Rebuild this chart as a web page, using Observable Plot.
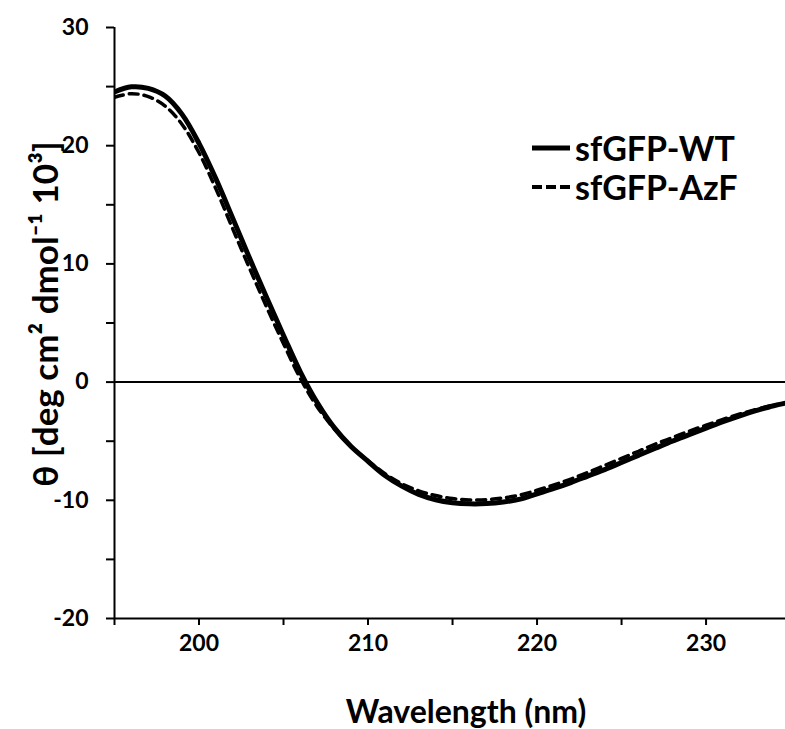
<!DOCTYPE html>
<html><head><meta charset="utf-8">
<script src="https://cdn.jsdelivr.net/npm/d3@7"></script>
<script src="https://cdn.jsdelivr.net/npm/@observablehq/plot@0.6"></script>
<style>
body{margin:0;background:#fff;}
#wrap{position:relative;width:785px;height:729px;font-family:Lato,"Open Sans",sans-serif;font-weight:bold;color:#000;}
.leg{position:absolute;display:flex;align-items:center;font-size:34px;line-height:1;white-space:nowrap;}
.leg svg{margin-right:3px;}
</style></head><body><div id="wrap"></div>
<script>
const wavelength = [195,196,197,198,199,200,201,202,203,204,205,206,207,208,209,210,211,212,213,214,215,216,217,218,219,220,221,222,223,224,225,226,227,228,229,230,231,232,233,234,235];
const wtValues = [24.55,24.98,24.85,24.2,22.65,20.2,17.2,13.85,10.45,7.15,3.95,0.85,-1.75,-3.85,-5.45,-6.7,-7.9,-8.8,-9.5,-9.95,-10.2,-10.3,-10.28,-10.15,-9.9,-9.45,-9.0,-8.5,-7.95,-7.4,-6.8,-6.2,-5.6,-5.0,-4.45,-3.9,-3.35,-2.85,-2.4,-2.0,-1.7];
const azfValues = [24.1,24.4,24.15,23.35,21.8,19.4,16.35,12.95,9.6,6.35,3.25,0.3,-2.1,-3.95,-5.45,-6.65,-7.75,-8.6,-9.2,-9.6,-9.85,-9.97,-9.95,-9.8,-9.55,-9.15,-8.7,-8.2,-7.65,-7.05,-6.45,-5.85,-5.25,-4.7,-4.15,-3.65,-3.15,-2.7,-2.3,-1.95,-1.7];
const seriesNames = ["sfGFP-WT", "sfGFP-AzF"];
const yTicks = [-20,-15,-10,-5,0,5,10,15,20,25,30];
const yLabels = [-20,-10,0,10,20,30];
const xTicks = [195,200,205,210,215,220,225,230];
const xLabels = [200,210,220,230];
const xTitle = "Wavelength (nm)";
const yTitle = "θ [deg cm² dmol⁻¹ 10³]";

const wt = wavelength.map((w, i) => ({w, v: wtValues[i]}));
const azf = wavelength.map((w, i) => ({w, v: azfValues[i]}));

const chart = Plot.plot({
  width: 785,
  height: 729,
  marginLeft: 114,
  marginRight: 0,
  marginTop: 27,
  marginBottom: 111,
  style: {fontFamily: "Lato, 'Open Sans', sans-serif", fontWeight: "bold", background: "#fff", color: "#000"},
  x: {domain: [195, 234.7], label: null},
  y: {domain: [-20, 30], label: null},
  marks: [
    Plot.axisY({ticks: yTicks, tickSize: 8, tickPadding: 18, strokeWidth: 2, fontSize: 23, fontWeight: "bold",
      tickFormat: d => yLabels.includes(d) ? String(d) : "", label: null}),
    Plot.axisX({ticks: xTicks, tickSize: 7, tickPadding: 9, strokeWidth: 2, fontSize: 23, fontWeight: "bold",
      tickFormat: d => xLabels.includes(d) ? String(d) : "", label: null}),
    Plot.ruleX([195], {stroke: "#000", strokeWidth: 2}),
    Plot.ruleY([-20], {stroke: "#000", strokeWidth: 2}),
    Plot.ruleY([0], {stroke: "#000", strokeWidth: 2}),
    Plot.line(azf, {x: "w", y: "v", stroke: "#000", strokeWidth: 3.5, strokeDasharray: "9,6", curve: "catmull-rom", clip: true}),
    Plot.line(wt, {x: "w", y: "v", stroke: "#000", strokeWidth: 5, curve: "catmull-rom", clip: true}),
    Plot.text([xTitle], {frameAnchor: "bottom", dx: 16, dy: 94, fontSize: 32, fontWeight: "bold", lineAnchor: "middle"}),
    Plot.text([yTitle], {frameAnchor: "left", textAnchor: "middle", rotate: -90, dx: -68, dy: -9, fontSize: 35, fontWeight: "bold", lineAnchor: "middle"})
  ]
});
const wrap = document.getElementById("wrap");
wrap.appendChild(chart);

function legendRow(name, dash, width, top, left) {
  const div = document.createElement("div");
  div.className = "leg";
  div.style.top = top + "px";
  div.style.left = left + "px";
  const ns = "http://www.w3.org/2000/svg";
  const s = document.createElementNS(ns, "svg");
  s.setAttribute("width", 40); s.setAttribute("height", 10);
  const ln = document.createElementNS(ns, "line");
  ln.setAttribute("x1", 0); ln.setAttribute("x2", 38); ln.setAttribute("y1", 5); ln.setAttribute("y2", 5);
  ln.setAttribute("stroke", "#000"); ln.setAttribute("stroke-width", width);
  if (dash) ln.setAttribute("stroke-dasharray", dash);
  s.appendChild(ln);
  div.appendChild(s);
  const sp = document.createElement("span");
  sp.textContent = name;
  div.appendChild(sp);
  wrap.appendChild(div);
}
legendRow(seriesNames[0], null, 5, 131, 532);
legendRow(seriesNames[1], "10,4", 4, 170, 532);
</script></body></html>
